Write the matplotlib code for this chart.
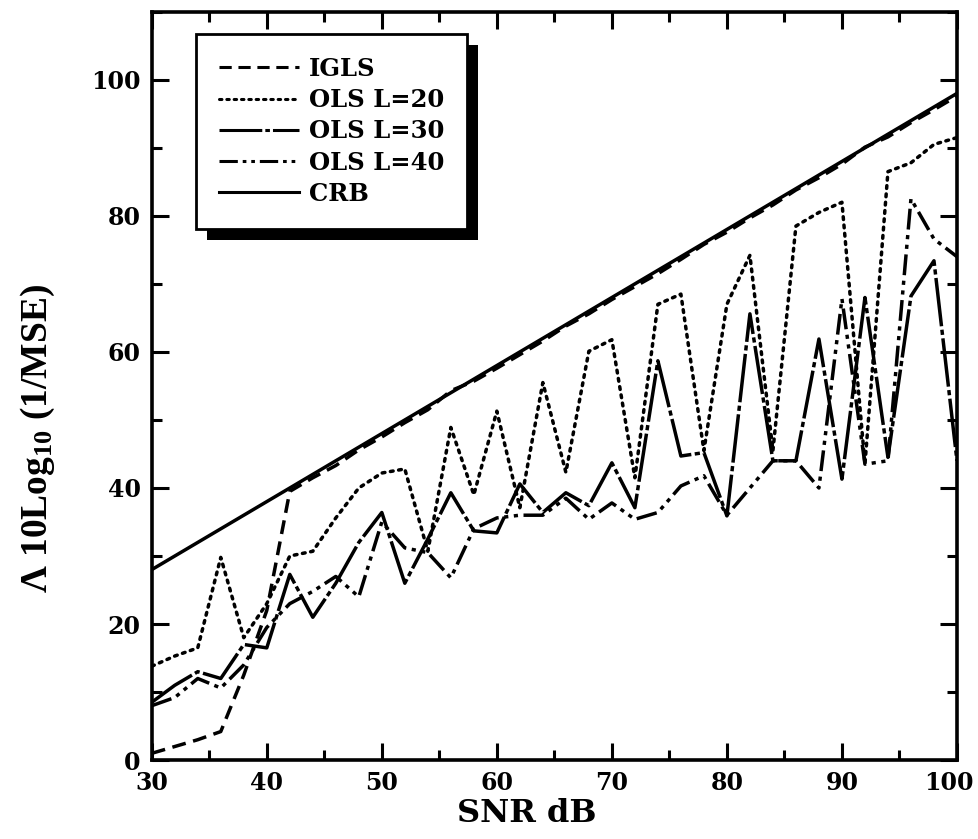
import matplotlib
matplotlib.use("Agg")
import matplotlib.pyplot as plt
from matplotlib.patches import Rectangle
from matplotlib.ticker import MultipleLocator

plt.rcParams["mathtext.fontset"] = "custom"
plt.rcParams["mathtext.rm"] = "Liberation Serif:bold"
plt.rcParams["mathtext.bf"] = "Liberation Serif:bold"
plt.rcParams["mathtext.it"] = "Liberation Serif:bold"

# SNR grid (dB)
snr = [30, 32, 34, 36, 38, 40, 42, 44, 46, 48, 50, 52, 54, 56, 58, 60, 62, 64,
       66, 68, 70, 72, 74, 76, 78, 80, 82, 84, 86, 88, 90, 92, 94, 96, 98, 100]

crb = [28, 30, 32, 34, 36, 38, 40, 42, 44, 46, 48, 50, 52, 54, 56, 58, 60, 62,
       64, 66, 68, 70, 72, 74, 76, 78, 80, 82, 84, 86, 88, 90, 92, 94, 96, 98]

igls = [1.0, 2.0, 3.0, 4.2, 12.5, 22.0, 39.5, 41.5, 43.3, 45.6, 47.5, 49.6, 51.5, 54.3,
        55.7, 57.6, 59.6, 61.6, 63.8, 65.6, 67.7, 69.6, 71.5, 73.6, 75.8, 77.6, 79.7,
        81.6, 83.8, 85.6, 87.6, 90.1, 91.6, 93.7, 95.6, 97.6]

ols20 = [13.8, 15.3, 16.5, 29.8, 18.0, 23.0, 30.0, 30.7, 35.6, 40.0, 42.2, 42.8, 30.7,
         48.9, 39.0, 51.3, 37.1, 55.5, 42.3, 60.1, 61.8, 41.5, 67.0, 68.5, 45.5, 67.0,
         74.2, 45.5, 78.5, 80.5, 82.0, 43.5, 86.5, 87.8, 90.5, 91.5]

ols30 = [8.5, 11.0, 13.0, 12.0, 17.0, 16.5, 27.3, 21.0, 26.0, 32.0, 36.4, 26.0, 32.5,
         39.3, 33.7, 33.4, 40.6, 36.4, 39.3, 37.4, 43.7, 37.1, 58.7, 44.7, 45.2, 35.9,
         65.6, 44.0, 44.0, 61.9, 41.3, 68.0, 44.5, 68.2, 73.4, 44.0]

ols40 = [8.0, 9.2, 12.0, 10.6, 14.0, 19.5, 23.0, 24.8, 27.0, 24.0, 35.0, 31.2, 30.5,
         26.8, 34.0, 35.6, 36.0, 36.0, 38.5, 35.4, 37.8, 35.4, 36.4, 40.3, 41.8, 36.0,
         40.0, 44.0, 44.0, 40.0, 67.8, 43.5, 44.0, 82.5, 76.6, 74.0]

xticks = [30, 40, 50, 60, 70, 80, 90, 100]
xticklabels = ["30", "40", "50", "60", "70", "80", "90", "100"]

fig = plt.figure(figsize=(9.79, 8.39), dpi=100)
ax = fig.add_axes([0.155, 0.094, 0.8225, 0.892])

lw = 2.5
ax.plot(snr, igls, color="black", lw=lw, linestyle=(0, (4, 2.2)), label="IGLS")
ax.plot(snr, ols20, color="black", lw=lw, linestyle=(0, (0.8, 1.6)),
        dash_capstyle="round", label="OLS L=20")
ax.plot(snr, ols30, color="black", lw=lw, linestyle=(0, (14, 1.0, 1.5, 1.0)), label="OLS L=30")
ax.plot(snr, ols40, color="black", lw=lw, linestyle=(0, (6, 1.6, 1.2, 1.6, 1.2, 1.6)),
        label="OLS L=40")
ax.plot(snr, crb, color="black", lw=lw, linestyle="-", label="CRB")

ax.set_xlim(30, 100)
ax.set_ylim(0, 110)
tickfont = {"family": "DejaVu Serif", "weight": "heavy", "size": 17}
# the last label is drawn separately, nudged left so it stays inside the figure
ax.set_xticks(xticks, labels=xticklabels[:-1] + [""], **tickfont)
ax.annotate(xticklabels[-1], xy=(1, 0), xycoords="axes fraction", xytext=(-6, -8),
            textcoords="offset points", ha="center", va="top", **tickfont)
ax.xaxis.set_minor_locator(MultipleLocator(5))
ax.yaxis.set_major_locator(MultipleLocator(20))
ax.yaxis.set_minor_locator(MultipleLocator(10))
ax.tick_params(which="both", direction="in", top=True, right=True, width=2.2)
ax.tick_params(which="major", length=12)
ax.tick_params(which="minor", length=7)
ax.tick_params(axis="x", pad=8)
ax.tick_params(axis="y", pad=8)
for s in ax.spines.values():
    s.set_linewidth(2.6)

for lab in ax.get_yticklabels():
    lab.set_fontfamily("DejaVu Serif")
    lab.set_fontweight("heavy")
    lab.set_fontsize(17)

ax.set_xlabel("SNR dB", fontfamily="DejaVu Serif", fontweight="bold", fontsize=23)
ax.xaxis.set_label_coords(0.466, -0.05)
ax.set_ylabel(r"$\mathbf{\Lambda}$ 10Log$_{\mathbf{10}}$ (1/MSE)",
              fontfamily="Liberation Serif", fontweight="bold", fontsize=27)
ax.yaxis.set_label_coords(-0.118, 0.43)

leg = ax.legend(loc="upper left", bbox_to_anchor=(0.0547, 0.9706), borderaxespad=0,
                fancybox=False, edgecolor="black", framealpha=1, handlelength=3.3,
                handletextpad=0.4, labelspacing=0.3, borderpad=0.95,
                prop={"family": "DejaVu Serif", "weight": "bold", "size": 17.5})
leg.get_frame().set_linewidth(2.0)
for h in leg.get_lines():
    h.set_linewidth(2.2)

# black drop shadow behind the legend box
fig.canvas.draw()
bb = leg.get_window_extent()
inv = ax.transAxes.inverted()
(x0, y0) = inv.transform((bb.x0 + 11, bb.y0 - 11))
(x1, y1) = inv.transform((bb.x1 + 11, bb.y1 - 11))
ax.add_patch(Rectangle((x0, y0), x1 - x0, y1 - y0, transform=ax.transAxes,
                       facecolor="black", edgecolor="none", zorder=4.9, clip_on=False))

fig.savefig("out.png", dpi=100)
